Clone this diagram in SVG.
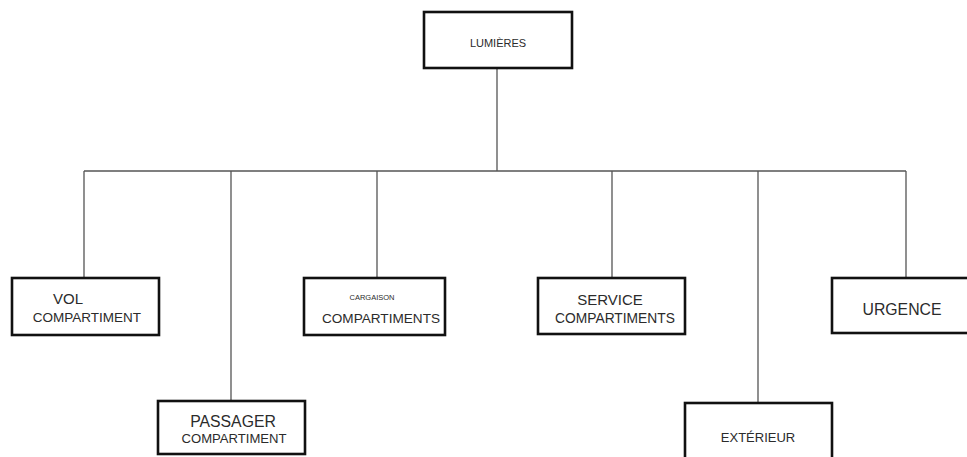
<svg xmlns="http://www.w3.org/2000/svg" width="967" height="457" viewBox="0 0 967 457">
<style>
.box{fill:#fff;stroke:#111;stroke-width:2.6}
.t{font-family:"Liberation Sans",Arial,sans-serif;fill:#2b2b2b;text-anchor:middle}
.c{fill:none;stroke:#555;stroke-width:1.3}
</style>
<rect width="967" height="457" fill="#fff"/>
<g id="connectors">
<path class="c" d="M497 68V171M84 171H906M84 171V278M231 171V401M377 171V278M612 171V278M758 171V403M906 171V278"/>
</g>
<g id="lumieres"><rect class="box" x="424" y="12" width="148" height="56"/><text class="t" x="498" y="47" font-size="11">LUMIÈRES</text></g>
<g id="vol"><rect class="box" x="12" y="278" width="147" height="57"/><text class="t" x="68" y="304" font-size="15">VOL</text><text class="t" x="87" y="322" font-size="13.5">COMPARTIMENT</text></g>
<g id="cargaison"><rect class="box" x="304" y="278" width="141" height="57"/><text class="t" x="372" y="300" font-size="7.5">CARGAISON</text><text class="t" x="381" y="323" font-size="13.6">COMPARTIMENTS</text></g>
<g id="service"><rect class="box" x="538" y="278" width="147" height="56"/><text class="t" x="610" y="305" font-size="15">SERVICE</text><text class="t" x="615" y="323" font-size="13.8">COMPARTIMENTS</text></g>
<g id="urgence"><rect class="box" x="832" y="278" width="140" height="55"/><text class="t" x="902" y="315" font-size="15.8">URGENCE</text></g>
<g id="passager"><rect class="box" x="158" y="401" width="147" height="53"/><text class="t" x="233" y="427" font-size="15.8">PASSAGER</text><text class="t" x="234" y="443" font-size="13.1">COMPARTIMENT</text></g>
<g id="exterieur"><rect class="box" x="685" y="403" width="147" height="60"/><text class="t" x="758" y="442" font-size="13">EXTÉRIEUR</text></g>
</svg>
